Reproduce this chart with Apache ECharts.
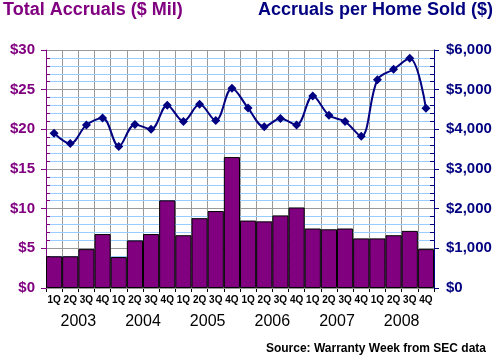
<!DOCTYPE html>
<html><head><meta charset="utf-8">
<script src="https://cdn.jsdelivr.net/npm/echarts@6/dist/echarts.min.js"></script>
<style>html,body{margin:0;padding:0;background:#fff}#c{width:500px;height:362px}</style>
</head><body><div id="c"></div>
<script>
const quarters = ['1Q','2Q','3Q','4Q','1Q','2Q','3Q','4Q','1Q','2Q','3Q','4Q','1Q','2Q','3Q','4Q','1Q','2Q','3Q','4Q','1Q','2Q','3Q','4Q'];
const years = ['2003','2004','2005','2006','2007','2008'];
const totalAccruals = [4.0, 4.0, 4.9, 6.8, 3.9, 6.0, 6.8, 11.05, 6.65, 8.8, 9.7, 16.5, 8.5, 8.4, 9.15, 10.15, 7.5, 7.4, 7.5, 6.25, 6.25, 6.65, 7.2, 4.9];
const perHomeSold = [3900, 3640, 4110, 4285, 3570, 4125, 4000, 4610, 4200, 4630, 4220, 5035, 4535, 4065, 4275, 4110, 4840, 4355, 4195, 3825, 5250, 5515, 5790, 4530];

const FONT = 'Liberation Sans, Arial, sans-serif';
const PURPLE = '#800080', NAVY = '#000080';

const chart = echarts.init(document.getElementById('c'), null, {renderer: 'canvas'});
chart.setOption({
  animation: false,
  backgroundColor: '#fff',
  title: [
    {text: 'Total Accruals ($ Mil)', left: 3, top: 1, padding: 0,
     textStyle: {color: PURPLE, fontSize: 18, fontWeight: 'bold', fontFamily: FONT}},
    {text: 'Accruals per Home Sold ($)', right: 7, top: 1, padding: 0,
     textStyle: {color: NAVY, fontSize: 18, fontWeight: 'bold', fontFamily: FONT}},
    {text: 'Source: Warranty Week from SEC data', right: 14, bottom: 7, padding: 0,
     textStyle: {color: '#000', fontSize: 12, fontWeight: 'bold', fontFamily: FONT}}
  ],
  grid: {left: 46, right: 66, top: 50, bottom: 74},
  xAxis: [
    {type: 'category', data: quarters, position: 'bottom',
     axisLine: {show: true, lineStyle: {color: '#000', width: 1}},
     axisTick: {show: true, length: 4, lineStyle: {color: '#000'}},
     axisLabel: {color: '#000', fontSize: 10, fontWeight: 'bold', fontFamily: FONT, margin: 7, interval: 0},
     splitLine: {show: true, lineStyle: {color: '#999999', width: 1}}},
    {type: 'category', data: years, position: 'bottom', offset: 24,
     axisLine: {show: false}, axisTick: {show: false}, splitLine: {show: false},
     axisLabel: {color: '#000', fontSize: 16, fontFamily: FONT, margin: 2, interval: 0}}
  ],
  yAxis: [
    {type: 'value', position: 'left', min: 0, max: 30, interval: 5, z: 2,
     axisLine: {show: true, lineStyle: {color: PURPLE, width: 1}},
     axisTick: {show: true, length: 5, lineStyle: {color: PURPLE}},
     axisLabel: {color: PURPLE, fontSize: 15, fontWeight: 'bold', fontFamily: FONT, margin: 11,
                 formatter: v => '$' + v},
     splitLine: {show: true, lineStyle: {color: '#999999', width: 1}}},
    {type: 'value', position: 'right', min: 0, max: 6000, interval: 1000, z: 2,
     axisLine: {show: true, lineStyle: {color: NAVY, width: 1}},
     axisTick: {show: true, length: 5, lineStyle: {color: NAVY}},
     axisLabel: {color: NAVY, fontSize: 15, fontWeight: 'bold', fontFamily: FONT, margin: 12,
                 formatter: v => '$' + v.toLocaleString('en-US')},
     splitLine: {show: false}},
    {type: 'value', position: 'left', min: 0, max: 30, interval: 1, z: 1,
     axisLine: {show: false},
     axisTick: {show: true, inside: true, length: 4, lineStyle: {color: PURPLE}},
     axisLabel: {show: false},
     splitLine: {show: true, lineStyle: {color: '#99CCFF', width: 1}}},
    {type: 'value', position: 'right', min: 0, max: 6000, interval: 200, z: 1,
     axisLine: {show: false},
     axisTick: {show: true, inside: true, length: 4, lineStyle: {color: NAVY}},
     axisLabel: {show: false},
     splitLine: {show: false}}
  ],
  series: [
    {type: 'bar', name: 'Total Accruals', data: totalAccruals, xAxisIndex: 0, yAxisIndex: 0,
     barCategoryGap: 0, z: 3,
     itemStyle: {color: PURPLE, borderColor: '#000', borderWidth: 1}},
    {type: 'line', name: 'Accruals per Home Sold', data: perHomeSold, xAxisIndex: 0, yAxisIndex: 1,
     smooth: 0.35, symbol: 'diamond', symbolSize: 9, z: 4,
     itemStyle: {color: NAVY}, lineStyle: {color: NAVY, width: 2}}
  ]
});
</script>
</body></html>
